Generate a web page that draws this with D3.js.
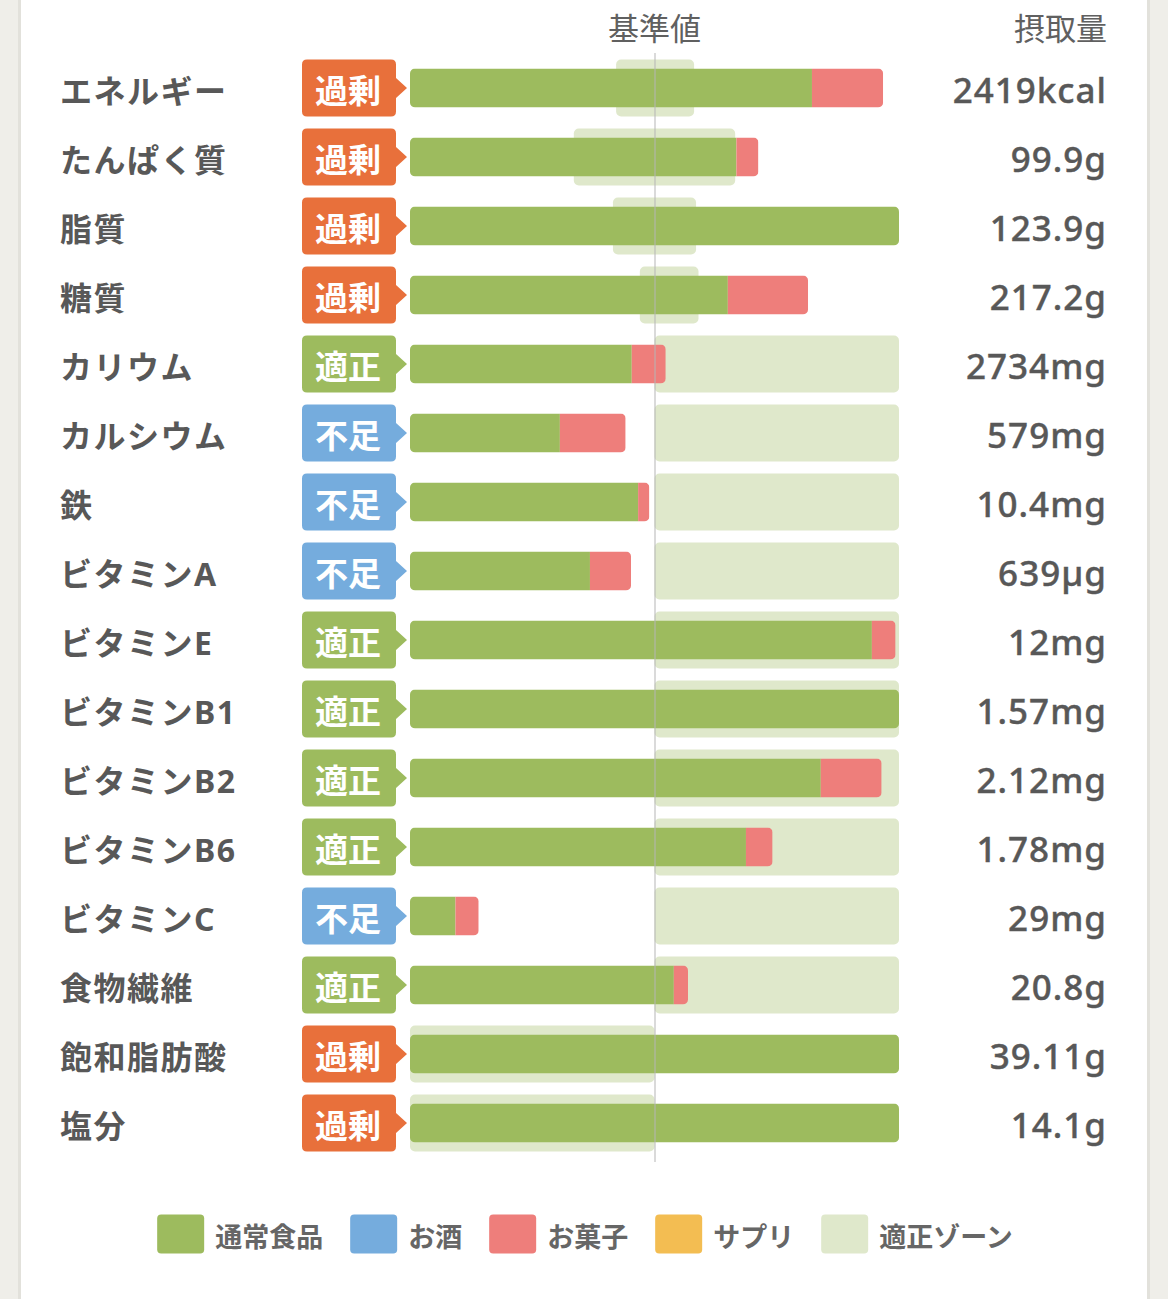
<!DOCTYPE html>
<html>
<head>
<meta charset="utf-8">
<script src="https://cdn.jsdelivr.net/npm/d3@7"></script>
<style>
  html, body { margin: 0; padding: 0; background: #efeee9; }
  svg { display: block; }
</style>
</head>
<body>
<svg id="chart" width="1168" height="1299"></svg>
<script>
// ---- data ----
const categories = ["エネルギー","たんぱく質","脂質","糖質","カリウム","カルシウム","鉄","ビタミンA","ビタミンE","ビタミンB1","ビタミンB2","ビタミンB6","ビタミンC","食物繊維","飽和脂肪酸","塩分"];
const statusLabels = ["過剰","過剰","過剰","過剰","適正","不足","不足","不足","適正","適正","適正","適正","不足","適正","過剰","過剰"];
// percent of reference value (基準値 = 100)
const foodPct      = [164.4, 133.5, 200, 130.0, 90.7, 61.3, 93.3, 73.6, 188.9, 200, 168.0, 137.4, 18.6, 107.9, 200, 200];
const alcoholPct   = [0, 0, 0, 0, 0, 0, 0, 0, 0, 0, 0, 0, 0, 0, 0, 0];
const snackPct     = [29.1, 9.0, 0, 32.8, 13.9, 26.9, 4.6, 16.8, 9.7, 0, 24.9, 10.9, 9.5, 5.8, 0, 0];
const supplementPct= [0, 0, 0, 0, 0, 0, 0, 0, 0, 0, 0, 0, 0, 0, 0, 0];
const zoneLow      = [84.3, 67.0, 83.0, 94.0, 100, 100, 100, 100, 100, 100, 100, 100, 100, 100, 0, 0];
const zoneHigh     = [116.2, 133.0, 117.0, 118.0, 200, 200, 200, 200, 200, 200, 200, 200, 200, 200, 100, 100];
const intakeLabels = ["2419kcal","99.9g","123.9g","217.2g","2734mg","579mg","10.4mg","639µg","12mg","1.57mg","2.12mg","1.78mg","29mg","20.8g","39.11g","14.1g"];
const axisMax = 200;
const referencePct = 100;
const headerLabels = ["基準値","摂取量"];
const seriesNames = ["通常食品","お酒","お菓子","サプリ"];
const zoneName = "適正ゾーン";

// ---- styles ----
const seriesColors = ["#9dbb5e","#75acdd","#ee7e7b","#f3bd52"];
const zoneColor = "#dfe8cb";
const statusColors = {"過剰":"#e8703b","適正":"#9dbb5e","不足":"#75acdd"};
const textColor = "#585858";
const CJK = "'Noto Sans CJK JP', 'Noto Sans', sans-serif";
const LAB = "'Noto Sans', 'Noto Sans CJK JP', sans-serif";
const NUM = "'Noto Sans', 'Noto Sans CJK JP', sans-serif";

const svg = d3.select("#chart");
svg.append("rect").attr("x", 0).attr("y", 0).attr("width", 1168).attr("height", 1299).attr("fill", "#efeee9");
svg.append("rect").attr("x", 18).attr("y", 0).attr("width", 3).attr("height", 1299).attr("fill", "#e2e1db");
svg.append("rect").attr("x", 1147).attr("y", 0).attr("width", 3).attr("height", 1299).attr("fill", "#e2e1db");
svg.append("rect").attr("x", 21).attr("y", 0).attr("width", 1126).attr("height", 1299).attr("fill", "#ffffff");

const x = d3.scaleLinear().domain([0, axisMax]).range([410, 899]);
const y = d3.scaleBand().domain(categories).range([53.5, 53.5 + categories.length * 69]).padding(0);
const bw = y.bandwidth();
const cy = c => y(c) + bw / 2;
const barH = 39, zoneH = 57;

const rows = categories.map((c, i) => ({
  c, i, status: statusLabels[i],
  segs: [foodPct[i], alcoholPct[i], snackPct[i], supplementPct[i]],
  zl: zoneLow[i], zh: zoneHigh[i], label: intakeLabels[i]
}));

// header
svg.append("text").attr("x", x(referencePct)).attr("y", 26).attr("text-anchor", "middle")
  .attr("dominant-baseline", "central").attr("font-family", CJK).attr("font-size", 31)
  .attr("fill", "#606060").text(headerLabels[0]);
svg.append("text").attr("x", 1107).attr("y", 26).attr("text-anchor", "end")
  .attr("dominant-baseline", "central").attr("font-family", CJK).attr("font-size", 31)
  .attr("fill", "#606060").text(headerLabels[1]);

// zones
svg.append("g").selectAll("rect").data(rows).join("rect")
  .attr("x", d => x(d.zl)).attr("width", d => x(d.zh) - x(d.zl))
  .attr("y", d => cy(d.c) - zoneH / 2).attr("height", zoneH)
  .attr("rx", 5).attr("fill", zoneColor);

// bars
const defs = svg.append("defs");
rows.forEach(d => {
  const total = d3.sum(d.segs);
  defs.append("clipPath").attr("id", "clip" + d.i).append("rect")
    .attr("x", x(0)).attr("width", x(Math.min(total, axisMax)) - x(0))
    .attr("y", cy(d.c) - barH / 2).attr("height", barH).attr("rx", 5);
});
const barG = svg.append("g");
rows.forEach(d => {
  let acc = 0;
  const stack = d.segs.map((v, k) => { const s = {x0: acc, x1: acc + v, k}; acc += v; return s; })
    .filter(s => s.x1 > s.x0);
  barG.append("g").attr("clip-path", `url(#clip${d.i})`)
    .selectAll("rect").data(stack).join("rect")
    .attr("x", s => x(s.x0)).attr("width", s => x(Math.min(s.x1, axisMax)) - x(s.x0))
    .attr("y", cy(d.c) - barH / 2).attr("height", barH)
    .attr("fill", s => seriesColors[s.k]);
});

// reference line
svg.append("line").attr("x1", x(referencePct) + 0.5).attr("x2", x(referencePct) + 0.5)
  .attr("y1", 53).attr("y2", 1162).attr("stroke", "#b5b5b5").attr("stroke-width", 1);

// category labels
svg.append("g").selectAll("text").data(rows).join("text")
  .attr("x", 60).attr("y", d => cy(d.c) + 2).attr("dominant-baseline", "central")
  .attr("font-family", LAB).attr("font-weight", 700).attr("font-size", 32)
  .attr("letter-spacing", 1.5)
  .attr("fill", textColor).text(d => d.c);

// badges
const badge = svg.append("g").selectAll("g").data(rows).join("g")
  .attr("transform", d => `translate(302,${cy(d.c)})`);
badge.append("path")
  .attr("d", () => {
    const w = 94, h = 57, r = 5, t = -h / 2, b = h / 2;
    return `M${r},${t} H${w - r} Q${w},${t} ${w},${t + r} V-10 L${w + 11},0 L${w},10 V${b - r} Q${w},${b} ${w - r},${b} H${r} Q0,${b} 0,${b - r} V${t + r} Q0,${t} ${r},${t} Z`;
  })
  .attr("fill", d => statusColors[d.status]);
badge.append("text").attr("x", 46).attr("y", 1).attr("text-anchor", "middle")
  .attr("dominant-baseline", "central").attr("font-family", CJK).attr("font-weight", 700)
  .attr("font-size", 33).attr("fill", "#fff").text(d => d.status);

// intake values
svg.append("g").selectAll("text").data(rows).join("text")
  .attr("x", 1107).attr("y", d => cy(d.c) + 1).attr("text-anchor", "end")
  .attr("dominant-baseline", "central").attr("font-family", NUM).attr("font-weight", 500)
  .attr("font-size", 35).attr("letter-spacing", 1).attr("fill", textColor)
  .attr("stroke", textColor).attr("stroke-width", 0.4).text(d => d.label);

// legend
const legendItems = seriesNames.map((n, k) => ({name: n, color: seriesColors[k]}))
  .concat([{name: zoneName, color: zoneColor}]);
const lg = svg.append("g");
let lx = 0;
const gap = 27, sqW = 47, txtOff = 58;
const items = lg.selectAll("g").data(legendItems).join("g");
items.each(function(d) {
  const g = d3.select(this);
  g.append("rect").attr("x", 0).attr("y", -19.5).attr("width", sqW).attr("height", 39).attr("rx", 4).attr("fill", d.color);
  const t = g.append("text").attr("x", txtOff).attr("y", 1).attr("dominant-baseline", "central")
    .attr("font-family", CJK).attr("font-weight", 700).attr("font-size", 27).attr("fill", "#666").text(d.name);
  const w = t.node().getComputedTextLength();
  g.attr("transform", `translate(${lx},0)`);
  lx += txtOff + w + gap;
});
const totalW = lx - gap;
lg.attr("transform", `translate(${585 - totalW / 2},1234)`);
</script>
</body>
</html>
